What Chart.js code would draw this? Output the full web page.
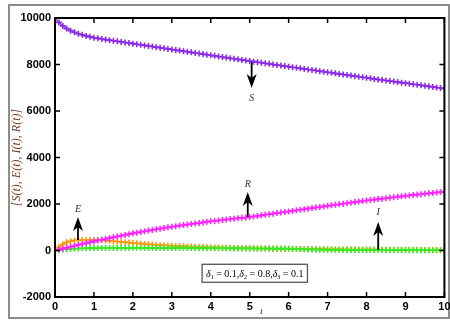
<!DOCTYPE html>
<html>
<head>
<meta charset="utf-8">
<script src="https://cdn.jsdelivr.net/npm/chart.js@4.4.1/dist/chart.umd.min.js"></script>
<style>
  html, body { margin: 0; padding: 0; background: #fff; }
</style>
</head>
<body>
<canvas id="myChart" width="450" height="322"></canvas>
<script>
// time points t = 0 .. 10
const tValues = [
    0, 0.1, 0.2, 0.3, 0.4, 0.5, 0.6, 0.7, 0.8, 0.9,
    1, 1.1, 1.2, 1.3, 1.4, 1.5, 1.6, 1.7, 1.8, 1.9,
    2, 2.1, 2.2, 2.3, 2.4, 2.5, 2.6, 2.7, 2.8, 2.9,
    3, 3.1, 3.2, 3.3, 3.4, 3.5, 3.6, 3.7, 3.8, 3.9,
    4, 4.1, 4.2, 4.3, 4.4, 4.5, 4.6, 4.7, 4.8, 4.9,
    5, 5.1, 5.2, 5.3, 5.4, 5.5, 5.6, 5.7, 5.8, 5.9,
    6, 6.1, 6.2, 6.3, 6.4, 6.5, 6.6, 6.7, 6.8, 6.9,
    7, 7.1, 7.2, 7.3, 7.4, 7.5, 7.6, 7.7, 7.8, 7.9,
    8, 8.1, 8.2, 8.3, 8.4, 8.5, 8.6, 8.7, 8.8, 8.9,
    9, 9.1, 9.2, 9.3, 9.4, 9.5, 9.6, 9.7, 9.8, 9.9,
    10
];

const sValues = [
    10000, 9810, 9660, 9545, 9455, 9385, 9325, 9275, 9230, 9190,
    9150, 9124, 9098, 9072, 9047, 9022, 8997, 8972, 8947, 8922,
    8897, 8872, 8847, 8822, 8797, 8772, 8747, 8722, 8697, 8672,
    8647, 8622, 8597, 8572, 8547, 8522, 8497, 8472, 8447, 8422,
    8397, 8372, 8347, 8322, 8297, 8272, 8247, 8222, 8197, 8172,
    8147, 8123, 8099, 8075, 8051, 8027, 8003, 7979, 7955, 7931,
    7907, 7883, 7859, 7835, 7811, 7787, 7763, 7739, 7715, 7691,
    7667, 7643, 7619, 7595, 7571, 7547, 7523, 7499, 7475, 7451,
    7427, 7404, 7381, 7358, 7335, 7312, 7289, 7266, 7243, 7220,
    7197, 7174, 7151, 7128, 7105, 7082, 7059, 7036, 7013, 6990,
    6967
];

const eValues = [
    0, 150, 270, 350, 400, 430, 445, 455, 460, 460,
    455, 450, 440, 430, 415, 400, 385, 370, 355, 340,
    325, 310, 295, 282, 270, 258, 247, 236, 226, 216,
    207, 198, 190, 182, 175, 168, 161, 155, 149, 143,
    138, 133, 128, 123, 118, 114, 110, 106, 102, 98,
    95, 92, 89, 86, 83, 80, 78, 76, 74, 72,
    70, 68, 66, 64, 62, 60, 58, 56, 54, 52,
    50, 49, 48, 47, 46, 45, 44, 43, 42, 41,
    40, 39, 38, 37, 36, 35, 34, 33, 32, 31,
    30, 29, 28, 27, 26, 25, 24, 23, 22, 21,
    20
];

const iValues = [
    0, 20, 40, 55, 68, 78, 86, 92, 97, 101,
    104, 106, 108, 109, 110, 111, 112, 112, 113, 113,
    113, 113, 113, 112, 112, 111, 111, 110, 110, 109,
    108, 107, 106, 105, 104, 103, 102, 101, 100, 99,
    98, 97, 96, 95, 94, 93, 92, 91, 90, 89,
    88, 87, 86, 85, 84, 83, 82, 81, 80, 79,
    78, 70, 64, 58, 52, 47, 43, 40, 37, 35,
    33, 31, 30, 29, 28, 27, 26, 25, 24, 23,
    22, 21, 21, 20, 20, 19, 19, 18, 18, 17,
    17, 16, 16, 15, 15, 14, 14, 13, 13, 12,
    12
];

const rValues = [
    0, 40, 80, 120, 160, 200, 240, 278, 316, 354,
    392, 427, 462, 497, 532, 567, 601, 635, 669, 703,
    737, 767, 797, 826, 855, 884, 912, 940, 968, 995,
    1022, 1046, 1070, 1094, 1117, 1140, 1163, 1186, 1209, 1232,
    1255, 1274, 1293, 1312, 1331, 1350, 1368, 1386, 1404, 1422,
    1440, 1464, 1488, 1512, 1536, 1560, 1584, 1608, 1632, 1656,
    1680, 1704, 1728, 1752, 1776, 1800, 1824, 1848, 1872, 1896,
    1920, 1943, 1966, 1989, 2012, 2035, 2058, 2081, 2104, 2127,
    2150, 2170, 2190, 2210, 2230, 2250, 2270, 2290, 2310, 2330,
    2350, 2368, 2386, 2404, 2422, 2440, 2458, 2476, 2494, 2512,
    2530
];

const xTicks = [0, 1, 2, 3, 4, 5, 6, 7, 8, 9, 10];
const yTicks = [-2000, 0, 2000, 4000, 6000, 8000, 10000];

// arrows with labels (t, from, to, label position)
const arrows = [
    { t: 5.05, from: 8100, to: 6990, text: 'S', labelY: 6560 },
    { t: 4.95, from: 1440, to: 2520, text: 'R', labelY: 2840 },
    { t: 0.59, from: 450, to: 1440, text: 'E', labelY: 1760 },
    { t: 8.3, from: 20, to: 1230, text: 'I', labelY: 1620 }
];

function series(vals) {
    return tValues.map((t, i) => ({ x: t, y: vals[i] }));
}

function ds(label, vals, color) {
    return {
        label: label,
        data: series(vals),
        borderColor: color,
        backgroundColor: color,
        borderWidth: 1.2,
        pointStyle: 'cross',
        pointRadius: 3,
        pointBorderWidth: 1.6,
        pointBorderColor: color,
        fill: false,
        tension: 0
    };
}

// frame, inward ticks, arrows, parameter box
const decorPlugin = {
    id: 'decor',
    beforeDraw(chart) {
        const ctx = chart.ctx;
        ctx.save();
        ctx.strokeStyle = '#8c8c8c';
        ctx.lineWidth = 2;
        ctx.strokeRect(9, 5, 440, 313);
        ctx.restore();
    },
    afterDatasetsDraw(chart) {
        const ctx = chart.ctx;
        const a = chart.chartArea;
        const xs = chart.scales.x;
        const ys = chart.scales.y;
        ctx.save();

        // axes box
        ctx.strokeStyle = '#000';
        ctx.lineWidth = 2;
        ctx.strokeRect(a.left, a.top, a.right - a.left, a.bottom - a.top);

        // inward ticks
        ctx.lineWidth = 1.5;
        ctx.beginPath();
        xTicks.forEach(v => {
            const px = xs.getPixelForValue(v);
            ctx.moveTo(px, a.bottom); ctx.lineTo(px, a.bottom - 5);
            ctx.moveTo(px, a.top); ctx.lineTo(px, a.top + 5);
        });
        yTicks.forEach(v => {
            const py = ys.getPixelForValue(v);
            ctx.moveTo(a.left, py); ctx.lineTo(a.left + 5, py);
            ctx.moveTo(a.right, py); ctx.lineTo(a.right - 5, py);
        });
        ctx.stroke();

        // arrows
        ctx.fillStyle = '#000';
        ctx.strokeStyle = '#000';
        ctx.lineWidth = 1.8;
        arrows.forEach(ar => {
            const x = xs.getPixelForValue(ar.t);
            const y0 = ys.getPixelForValue(ar.from);
            const y1 = ys.getPixelForValue(ar.to);
            const dir = Math.sign(y1 - y0);
            ctx.beginPath();
            ctx.moveTo(x, y0);
            ctx.lineTo(x, y1 - dir * 8);
            ctx.stroke();
            ctx.beginPath();
            ctx.moveTo(x, y1);
            ctx.lineTo(x - 5, y1 - dir * 14);
            ctx.lineTo(x, y1 - dir * 10);
            ctx.lineTo(x + 5, y1 - dir * 14);
            ctx.closePath();
            ctx.fill();

            ctx.font = 'italic 10px "Liberation Serif"';
            ctx.fillStyle = '#333';
            ctx.textAlign = 'center';
            ctx.textBaseline = 'middle';
            ctx.fillText(ar.text, x, ys.getPixelForValue(ar.labelY));
            ctx.fillStyle = '#000';
        });

        // parameter box
        const parts = [
            ['δ', 'i'], ['1', 's'], [' = 0.1,', 'n'],
            ['δ', 'i'], ['2', 's'], [' = 0.8,', 'n'],
            ['δ', 'i'], ['3', 's'], [' = 0.1', 'n']
        ];
        const fontFor = k => k === 'i' ? 'italic 10px "Liberation Serif"'
            : k === 's' ? '6px "Liberation Serif"' : '10px "Liberation Serif"';
        let w = 0;
        parts.forEach(p => { ctx.font = fontFor(p[1]); w += ctx.measureText(p[0]).width; });
        const cx = xs.getPixelForValue(5.13);
        const cy = ys.getPixelForValue(-980);
        const bw = w + 8, bh = 18;
        ctx.fillStyle = '#fff';
        ctx.fillRect(cx - bw / 2, cy - bh / 2, bw, bh);
        ctx.strokeStyle = '#555';
        ctx.lineWidth = 1.3;
        ctx.strokeRect(cx - bw / 2, cy - bh / 2, bw, bh);
        let px = cx - w / 2;
        ctx.fillStyle = '#000';
        ctx.textAlign = 'left';
        ctx.textBaseline = 'alphabetic';
        parts.forEach(p => {
            ctx.font = fontFor(p[1]);
            ctx.fillText(p[0], px, cy + 3.5 + (p[1] === 's' ? 2 : 0));
            px += ctx.measureText(p[0]).width;
        });

        // x title "t"
        ctx.font = 'italic 8px "Liberation Serif"';
        ctx.textAlign = 'center';
        ctx.textBaseline = 'middle';
        ctx.fillText('t', xs.getPixelForValue(5.3), a.bottom + 15);

        ctx.restore();
    }
};

const config = {
    type: 'line',
    data: {
        // first dataset is drawn on top
        datasets: [
            ds('S', sValues, '#8a2be8'),
            ds('R', rValues, '#ff22ff'),
            ds('I', iValues, '#33ee22'),
            ds('E', eValues, '#ff9a10')
        ]
    },
    options: {
        responsive: false,
        animation: false,
        layout: { padding: { left: 0, right: 5, top: 18, bottom: 0 } },
        plugins: {
            legend: { display: false },
            tooltip: { enabled: false }
        },
        scales: {
            x: {
                type: 'linear',
                min: 0,
                max: 10,
                grid: { display: false, drawTicks: false },
                border: { display: false },
                afterBuildTicks: s => { s.ticks = xTicks.map(v => ({ value: v })); },
                ticks: {
                    color: '#000',
                    padding: 3,
                    maxRotation: 0,
                    callback: v => String(v),
                    font: { family: '"Liberation Sans"', weight: 'bold', size: 11 }
                },
                afterFit: s => { s.height = 25; s.paddingLeft = 0; s.paddingRight = 0; }
            },
            y: {
                min: -2000,
                max: 10000,
                grid: { display: false, drawTicks: false },
                border: { display: false },
                afterBuildTicks: s => { s.ticks = yTicks.map(v => ({ value: v })); },
                ticks: {
                    color: '#000',
                    padding: 4,
                    callback: v => String(v),
                    font: { family: '"Liberation Sans"', weight: 'bold', size: 11 }
                },
                title: {
                    display: true,
                    text: '[S(t), E(t), I(t), R(t)]',
                    color: '#7a3a1c',
                    padding: { top: 10, bottom: 0 },
                    font: { family: '"Liberation Serif"', style: 'italic', size: 12 }
                },
                afterFit: s => { s.width = 55; s.paddingTop = 0; s.paddingBottom = 0; }
            }
        }
    },
    plugins: [decorPlugin]
};

const myChart = new Chart(document.getElementById('myChart'), config);
</script>
</body>
</html>
